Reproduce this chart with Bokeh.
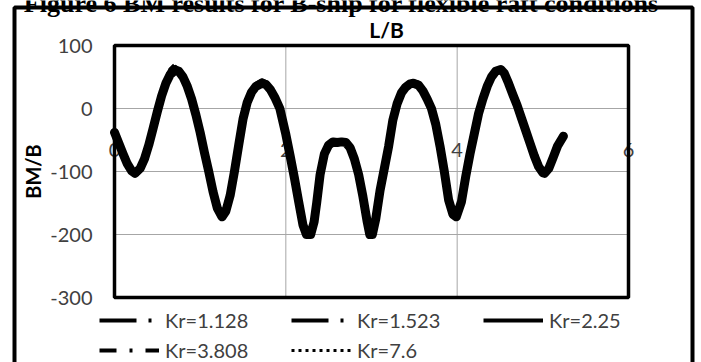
import math
from bokeh.plotting import figure
from bokeh.models import (Legend, LegendItem, BoxAnnotation, ColumnDataSource)
from bokeh.core.properties import value
from bokeh.embed import file_html
from bokeh.resources import INLINE

# ---------------- data ----------------
l_over_b = [0, 0.05, 0.1, 0.15, 0.2, 0.24,
            0.3, 0.35, 0.4, 0.45, 0.5, 0.55, 0.6, 0.65, 0.71,
            0.75, 0.8, 0.85, 0.9, 0.95, 1.0, 1.05, 1.1, 1.15, 1.2, 1.255,
            1.3, 1.35, 1.4, 1.45, 1.5, 1.55, 1.6, 1.65, 1.72,
            1.77, 1.82, 1.87, 1.93, 2.0, 2.05, 2.1, 2.15, 2.2, 2.24, 2.29,
            2.33, 2.36, 2.4, 2.45, 2.5, 2.55, 2.6, 2.65, 2.7, 2.75, 2.8, 2.85, 2.9, 2.95, 2.98, 3.01,
            3.05, 3.1, 3.15, 3.2, 3.25, 3.3, 3.35, 3.4, 3.45, 3.49,
            3.55, 3.6, 3.65, 3.7, 3.75, 3.8, 3.85, 3.9, 3.95, 3.99,
            4.05, 4.1, 4.15, 4.2, 4.25, 4.3, 4.35, 4.4, 4.45, 4.51,
            4.55, 4.6, 4.65, 4.7, 4.75, 4.8, 4.85, 4.9, 4.95, 5.0, 5.02,
            5.07, 5.12, 5.17, 5.24]

kr_1_128 = [-36, -54, -71, -87, -99, -104,
            -94, -78, -56, -29, -2, 24, 46, 62, 70,
            64, 54, 38, 17, -8, -36, -68, -99, -131, -157, -173,
            -162, -136, -98, -56, -15, 12, 29, 39, 45,
            42, 33, 20, 2, -39, -73, -108, -147, -184, -202, -202,
            -178, -148, -103, -70, -56, -51, -52, -51, -52, -60, -78, -103, -139, -179, -203, -202,
            -173, -128, -93, -58, -16, 10, 28, 37, 43, 44,
            41, 31, 18, 3, -22, -58, -98, -143, -167, -173,
            -146, -106, -70, -38, -6, 18, 38, 54, 62, 66,
            60, 44, 26, 8, -12, -32, -53, -73, -90, -101, -104,
            -94, -77, -59, -43]

kr_1_523 = [-37, -54, -72, -88, -100, -103,
            -95, -79, -57, -31, -4, 22, 43, 58, 66,
            62, 52, 37, 16, -9, -37, -69, -100, -132, -158, -172,
            -163, -137, -99, -57, -16, 11, 28, 37, 43,
            40, 32, 19, 1, -40, -74, -109, -148, -185, -201, -201,
            -179, -149, -104, -71, -57, -52, -53, -52, -53, -61, -79, -104, -140, -180, -202, -201,
            -174, -129, -94, -59, -17, 9, 27, 36, 41, 42,
            39, 30, 17, 2, -23, -59, -99, -144, -168, -172,
            -147, -107, -71, -39, -7, 17, 37, 52, 61, 64,
            58, 42, 24, 7, -13, -33, -54, -74, -91, -102, -103,
            -95, -78, -60, -44]

kr_2_25 = [-38, -55, -72, -88, -99, -103,
           -95, -80, -58, -32, -5, 20, 40, 54, 61,
           59, 50, 35, 15, -10, -38, -70, -100, -132, -158, -172,
           -163, -138, -100, -58, -17, 10, 26, 35, 40,
           38, 30, 18, 0, -41, -75, -110, -148, -185, -200, -200,
           -180, -150, -105, -72, -58, -53, -54, -53, -54, -62, -80, -105, -140, -180, -200, -200,
           -175, -130, -95, -60, -18, 8, 25, 34, 39, 40,
           37, 28, 15, 0, -25, -60, -100, -145, -168, -172,
           -148, -108, -72, -40, -8, 15, 35, 50, 59, 62,
           56, 40, 22, 5, -15, -35, -55, -75, -92, -102, -103,
           -95, -78, -60, -44]

kr_3_808 = [-39, -56, -73, -89, -100, -102,
            -96, -81, -59, -33, -7, 18, 38, 52, 58,
            57, 48, 33, 13, -12, -40, -72, -102, -134, -159, -171,
            -164, -139, -102, -60, -19, 8, 24, 33, 38,
            36, 28, 16, -2, -43, -77, -112, -150, -186, -199, -199,
            -181, -151, -107, -74, -59, -54, -55, -54, -55, -63, -82, -107, -142, -181, -199, -199,
            -176, -132, -97, -62, -20, 6, 23, 32, 37, 38,
            35, 26, 13, -2, -27, -62, -102, -146, -168, -171,
            -149, -110, -74, -42, -10, 13, 33, 48, 57, 60,
            54, 38, 20, 3, -17, -37, -57, -77, -93, -102, -102,
            -96, -79, -61, -45]

kr_7_6 = [-38, -55, -72, -88, -99, -103,
          -95, -80, -58, -31, -4, 21, 41, 55, 62,
          60, 51, 36, 16, -9, -37, -69, -100, -132, -158, -172,
          -163, -138, -100, -58, -17, 10, 27, 36, 41,
          39, 31, 19, 1, -41, -75, -110, -148, -185, -200, -200,
          -180, -150, -105, -72, -58, -53, -54, -53, -54, -62, -80, -105, -140, -180, -200, -200,
          -175, -130, -95, -60, -18, 8, 26, 35, 40, 41,
          38, 29, 16, 1, -24, -60, -100, -145, -168, -172,
          -148, -108, -72, -40, -8, 16, 36, 51, 60, 63,
          57, 41, 23, 6, -14, -34, -55, -75, -92, -102, -103,
          -95, -78, -60, -44]

series_labels = ["Kr=1.128", "Kr=1.523", "Kr=2.25", "Kr=3.808", "Kr=7.6"]
x_tick_values = [0, 2, 4, 6]
x_tick_labels = ["0", "2", "4", "6"]
y_tick_values = [-300, -200, -100, 0, 100]
y_tick_labels = ["-300", "-200", "-100", "0", "100"]
x_title = "L/B"
y_title = "BM/B"
caption = "Figure 6 BM results for B-ship for flexible raft conditions"

for s in (kr_1_128, kr_1_523, kr_2_25, kr_3_808, kr_7_6):
    assert len(s) == len(l_over_b), len(s)

# ---------------- layout constants (pixels) ----------------
W, H = 701, 362
FL, FR, FT, FB = 114, 628, 45, 297          # plot-area edges
BOX_L, BOX_R, BOX_T = 14, 692, 7            # outer chart-box edges
X0, X1 = 0, 6
Y0, Y1 = -300, 100
XS = (FR - FL) / (X1 - X0)                  # px per unit L/B
YS = (FB - FT) / (Y1 - Y0)                  # px per unit BM/B

# ranges chosen so that the plot area lands at FL..FR, FT..FB of the canvas
x_range = (X0 - FL / XS, X1 + (W - FR) / XS)
y_range = (Y0 - (H - FB) / YS, Y1 + FT / YS)

p = figure(width=W, height=H, x_range=x_range, y_range=y_range,
           output_backend="svg", toolbar_location=None,
           x_axis_location=None, y_axis_location=None,
           min_border=0)
p.background_fill_color = "white"
p.border_fill_color = "white"
p.outline_line_color = None
for g in p.grid:
    g.visible = False

GRID = "#a6a6a6"
TXT = "#404040"
FONT = "Lato"

# gridlines limited to the plot area (from the tick values)
p.segment(x0=[X0] * len(y_tick_values), x1=[X1] * len(y_tick_values),
          y0=y_tick_values, y1=y_tick_values, line_color=GRID, line_width=1)
p.segment(x0=x_tick_values, x1=x_tick_values,
          y0=[Y0] * len(x_tick_values), y1=[Y1] * len(x_tick_values),
          line_color=GRID, line_width=1)

# y tick labels
p.text(x=[X0] * len(y_tick_values), y=y_tick_values, text=y_tick_labels,
       x_offset=-22, text_font=value(FONT), text_font_size="20px",
       text_color=TXT, text_align="right", text_baseline="middle")
# y title
p.text(x=[X0], y=[(Y0 + Y1) / 2], text=[y_title], x_offset=-82, angle=math.pi / 2,
       text_font=value(FONT), text_font_size="20px", text_font_style="bold",
       text_color="black", text_align="center", text_baseline="middle")
# x tick labels sit inside the plot (as in the source)
p.text(x=x_tick_values, y=[-66] * len(x_tick_values), text=x_tick_labels,
       text_font=value(FONT), text_font_size="20px", text_color=TXT,
       text_align="center", text_baseline="middle")
# x title above the plot
p.text(x=[(X0 + X1) / 2], y=[Y1], text=[x_title], x_offset=15, y_offset=-16,
       text_font=value(FONT), text_font_size="21px", text_font_style="bold",
       text_color="black", text_align="center", text_baseline="middle")
# cut-off caption above the chart box (only its lower edge shows)
p.text(x=[(X0 + X1) / 2], y=[Y1], text=[caption], x_offset=-30, y_offset=3 - FT,
       text_font=value("Liberation Serif"), text_font_size="26px",
       text_font_style="bold", text_color="black",
       text_align="center", text_baseline="alphabetic")

# series
src = ColumnDataSource(dict(x=l_over_b, a=kr_1_128, b=kr_1_523, c=kr_2_25,
                            d=kr_3_808, e=kr_7_6))
p.line("x", "c", source=src, line_color="black", line_width=9,
       line_join="round", line_cap="round")
r1 = p.line("x", "a", source=src, line_color="black", line_width=4,
            line_dash="37 12 3 12", line_join="round")
r2 = p.line("x", "b", source=src, line_color="black", line_width=4,
            line_dash="37 12 3 12", line_join="round")
r3 = p.line("x", "c", source=src, line_color="black", line_width=4,
            line_join="round")
r4 = p.line("x", "d", source=src, line_color="black", line_width=4,
            line_dash="17 13 3 13", line_join="round")
r5 = p.line("x", "e", source=src, line_color="black", line_width=3,
            line_dash="3 4", line_join="round")

# plot-area border and outer chart border
p.add_layout(BoxAnnotation(left=X0, right=X1, bottom=Y0, top=Y1,
                           fill_alpha=0, line_color="black", line_alpha=1,
                           line_width=3.5))
p.add_layout(BoxAnnotation(left=X0 - (FL - BOX_L) / XS, right=X1 + (BOX_R - FR) / XS,
                           top=Y1 + (FT - BOX_T) / YS, bottom=Y0 - (H + 20 - FB) / YS,
                           fill_alpha=0, line_color="black", line_alpha=1,
                           line_width=4))

legend = Legend(items=[LegendItem(label=lab, renderers=[r])
                       for lab, r in zip(series_labels, [r1, r2, r3, r4, r5])],
                orientation="horizontal", ncols=3,
                location=(99, 0))
legend.glyph_width = 60
legend.glyph_height = 20
legend.label_height = 20
legend.label_width = 120
legend.label_standoff = 6
legend.spacing = 6
legend.padding = 0
legend.margin = 0
legend.border_line_alpha = 0
legend.background_fill_alpha = 0
legend.label_text_font = FONT
legend.label_text_font_size = "20px"
legend.label_text_color = TXT
legend.label_text_baseline = "middle"
p.add_layout(legend, "center")

open("out.html", "w").write(file_html(p, INLINE))
